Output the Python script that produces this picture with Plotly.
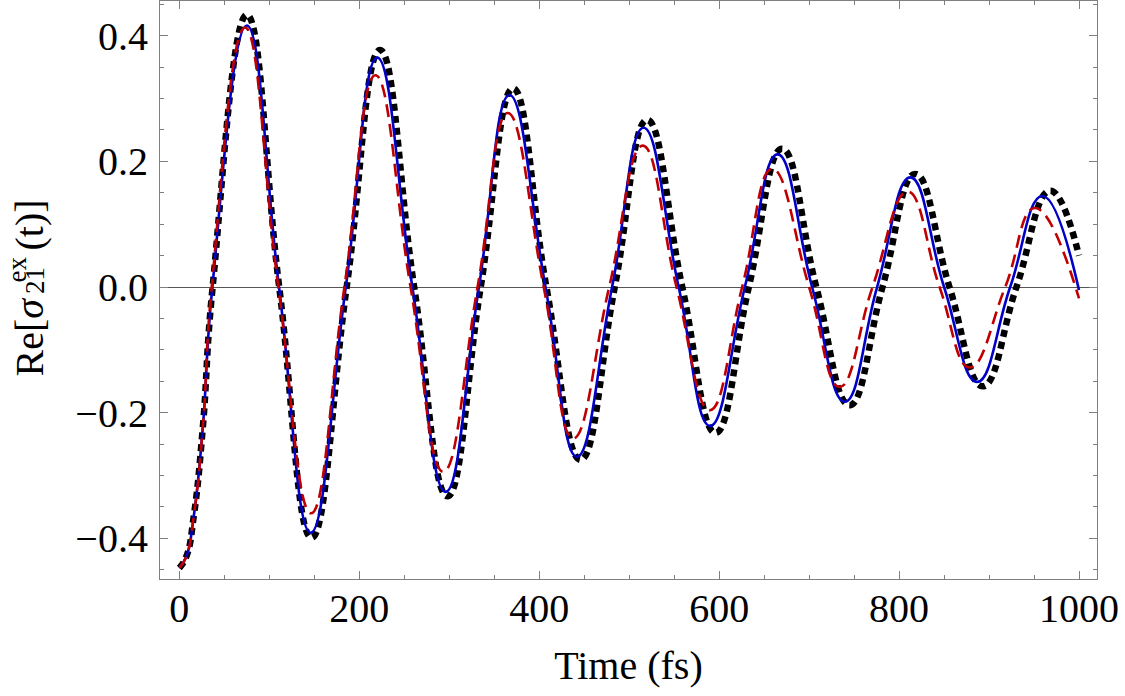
import plotly.graph_objects as go

# ---- data (start, extrema and zero crossings) ----
t_black = [0, 8, 16, 26, 37, 75, 111, 147, 186, 223, 261, 298, 335, 371, 408, 446, 484, 520,
           559, 596, 633, 670, 708, 745, 781.6, 818, 856, 893, 930.5, 968, 1000]
y_black = [-0.447, -0.428, -0.365, -0.225, 0, 0.433, 0, -0.399, 0, 0.377, 0, -0.333, 0, 0.316, 0,
           -0.275, 0, 0.266, 0, -0.232, 0, 0.220, 0, -0.188, 0, 0.180, 0, -0.158, 0, 0.153, 0.050]

t_blue = [0, 8, 16, 26, 36.7, 75, 110.8, 146, 185, 220, 259, 296, 333, 367, 407, 442, 481, 516,
          555, 590, 628.6, 665, 703.3, 739.7, 775.6, 812.6, 850, 886.7, 923.5, 959.3, 1000]
y_blue = [-0.447, -0.428, -0.365, -0.225, 0, 0.416, 0, -0.391, 0, 0.365, 0, -0.326, 0, 0.3055, 0,
          -0.270, 0, 0.2535, 0, -0.221, 0, 0.211, 0, -0.1825, 0, 0.1745, 0, -0.151, 0, 0.1448, -0.005]

t_red = [0, 8, 16, 26, 36, 73, 110, 146.5, 183.5, 218, 257, 293.4, 331.5, 365, 405, 437.8, 477.8, 515,
         552.6, 589.7, 625.6, 659, 700, 734, 770.5, 809.6, 845, 878.6, 918, 951, 1000]
y_red = [-0.447, -0.428, -0.365, -0.225, 0, 0.413, 0, -0.360, 0, 0.337, 0, -0.294, 0, 0.277, 0,
         -0.241, 0, 0.225, 0, -0.196, 0, 0.188, 0, -0.159, 0, 0.1517, 0, -0.128, 0, 0.1257, -0.018]

x_ticks = [0, 200, 400, 600, 800, 1000]
x_tick_text = ["0", "200", "400", "600", "800", "1000"]
y_ticks = [-0.4, -0.2, 0.0, 0.2, 0.4]
y_tick_text = ["\u22120.4", "\u22120.2", "0.0", "0.2", "0.4"]

W, H = 1125, 696
ML, MR, MT, MB = 160, 28, 1, 117
PW, PH = W - ML - MR, H - MT - MB
FONT = "Liberation Serif, Times New Roman, serif"
FRAME = "#808080"

fig = go.Figure()
fig.add_trace(go.Scatter(x=t_black, y=y_black, mode="lines",
                         line=dict(color="black", width=6.5, dash="7px,5px",
                                   shape="spline", smoothing=1.3),
                         showlegend=False, hoverinfo="skip"))
fig.add_trace(go.Scatter(x=t_blue, y=y_blue, mode="lines",
                         line=dict(color="#0000C8", width=2.6,
                                   shape="spline", smoothing=1.3),
                         showlegend=False, hoverinfo="skip"))
fig.add_trace(go.Scatter(x=t_red, y=y_red, mode="lines",
                         line=dict(color="#C00000", width=2.6, dash="13px,7px",
                                   shape="spline", smoothing=1.3),
                         showlegend=False, hoverinfo="skip"))

axis_common = dict(
    showgrid=False, showline=True, linecolor=FRAME, linewidth=1.2, mirror="ticks",
    ticks="inside", tickcolor=FRAME, tickwidth=1,
    tickfont=dict(family=FONT, size=40, color="black"),
)
fig.update_xaxes(range=[-21.5, 1020], tickvals=x_ticks, ticktext=x_tick_text, ticklen=8,
                 zeroline=False,
                 minor=dict(dtick=50, tick0=0, ticks="inside", ticklen=4, tickcolor=FRAME),
                 ticklabelstandoff=-6,
                 title=dict(text="Time (fs)", font=dict(family=FONT, size=40, color="black"),
                            standoff=20),
                 **axis_common)
fig.update_yaxes(range=[-0.4646, 0.4551], tickvals=y_ticks, ticktext=y_tick_text, ticklen=8,
                 zeroline=True, zerolinecolor="#555555", zerolinewidth=1,
                 minor=dict(dtick=0.05, tick0=0, ticks="inside", ticklen=4, tickcolor=FRAME),
                 ticklabelstandoff=3,
                 **axis_common)


def px_x(x):
    return (x - ML) / PW


def px_y(y):
    return (H - MB - y) / PH


title_parts = [
    ("Re[<i>σ</i>", 40, 29, 337.5),
    ("ex", 27, 16.5, 270),
    ("21", 27, 35, 281),
    ("(t)]", 40, 29, 225.5),
]
for txt, size, xc, yc in title_parts:
    fig.add_annotation(text=txt, xref="paper", yref="paper", x=px_x(xc), y=px_y(yc),
                       xanchor="center", yanchor="middle", textangle=-90, showarrow=False,
                       font=dict(family=FONT, size=size, color="black"), borderpad=0)

fig.update_layout(width=W, height=H, margin=dict(l=ML, r=MR, t=MT, b=MB),
                  plot_bgcolor="white", paper_bgcolor="white")

fig.write_html("out.html")
